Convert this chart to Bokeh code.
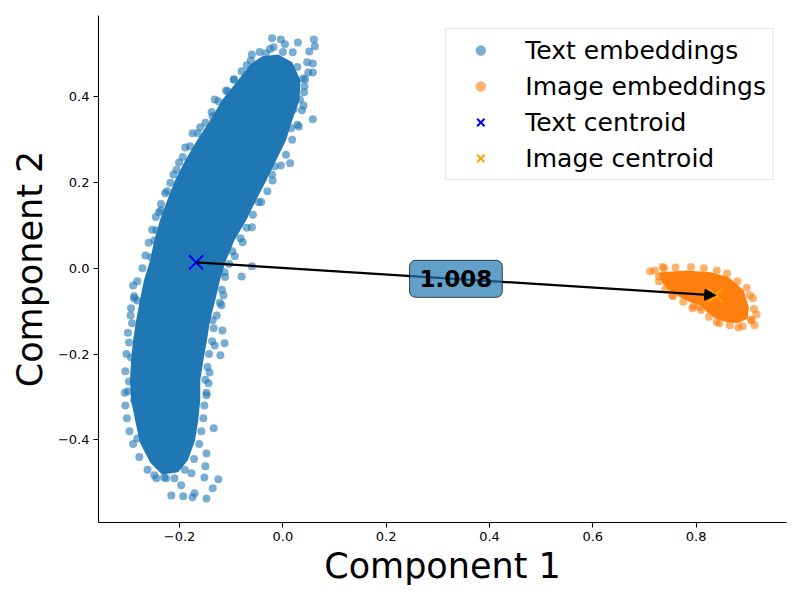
from bokeh.plotting import figure
from bokeh.models import (Range1d, Arrow, NormalHead, Label, Legend, LegendItem,
                          FixedTicker, CustomJSTickFormatter)
from bokeh.embed import file_html
from bokeh.resources import INLINE

# ---------------- data ----------------
# dense core of the text-embedding cloud (outline of the solid region)
text_core_x = [-0.040, -0.009, 0.018, 0.034, 0.032, 0.018, 0.006, -0.013, -0.032, -0.052,
               -0.071, -0.094, -0.110, -0.122, -0.131, -0.141, -0.147, -0.154, -0.160, -0.160,
               -0.164, -0.170, -0.184, -0.203, -0.234, -0.257, -0.277, -0.286, -0.294, -0.296,
               -0.294, -0.290, -0.284, -0.277, -0.269, -0.257, -0.249, -0.238, -0.224, -0.209,
               -0.189, -0.166, -0.141, -0.118, -0.087, -0.063]
text_core_y = [0.495, 0.499, 0.481, 0.439, 0.392, 0.345, 0.299, 0.252, 0.205, 0.159,
               0.112, 0.065, 0.019, -0.028, -0.075, -0.121, -0.168, -0.215, -0.261, -0.308,
               -0.355, -0.401, -0.448, -0.476, -0.481, -0.453, -0.406, -0.355, -0.308, -0.261,
               -0.215, -0.168, -0.121, -0.075, -0.028, 0.019, 0.065, 0.112, 0.159, 0.205,
               0.252, 0.299, 0.345, 0.392, 0.439, 0.476]

# individual text-embedding points: outliers ...
text_out_x = [-0.021, -0.004, 0.029, 0.060, 0.062, 0.051, 0.004, -0.018, -0.033, -0.060,
              -0.070, -0.095, -0.107, -0.132, -0.136, -0.175, -0.189, -0.201, -0.212, -0.224,
              -0.236, -0.240, -0.245, -0.249, -0.255, 0.058, 0.047, 0.058, 0.049, 0.043,
              0.039, 0.041, 0.033, 0.021, 0.037, 0.058, 0.031, 0.016, 0.019, -0.160,
              0.014, -0.016, -0.021, -0.047, -0.058, -0.060, -0.078, -0.093, -0.060, -0.080,
              -0.113, -0.115, -0.119, -0.136, -0.117, -0.113, -0.132, -0.290, -0.288, -0.282,
              -0.294, -0.292, -0.298, -0.294, -0.121, -0.142, -0.144, -0.148, -0.298, -0.300,
              -0.288, -0.134, -0.148, -0.150, -0.125, -0.152, -0.136, -0.148, -0.171, -0.193,
              -0.216, -0.175, -0.197, -0.249, -0.230, -0.226, -0.240, -0.177, -0.282, -0.263]
text_out_y = [0.537, 0.534, 0.527, 0.534, 0.518, 0.506, 0.523, 0.516, 0.502, 0.499,
              0.474, 0.441, 0.413, 0.394, 0.355, 0.315, 0.282, 0.247, 0.219, 0.180,
              0.135, 0.131, 0.089, 0.065, 0.026, 0.478, 0.481, 0.457, 0.457, 0.441,
              0.443, 0.411, 0.394, 0.371, 0.369, 0.348, 0.331, 0.327, 0.504, 0.329,
              0.245, 0.238, 0.219, 0.154, 0.168, 0.096, 0.061, 0.028, 0.005, -0.019,
              -0.009, -0.063, -0.086, -0.121, -0.145, -0.175, -0.180, -0.040, -0.065, -0.075,
              -0.093, -0.128, -0.173, -0.208, -0.203, -0.243, -0.268, -0.296, -0.264, -0.287,
              -0.308, -0.373, -0.432, -0.462, -0.492, -0.488, -0.513, -0.537, -0.525, -0.532,
              -0.530, -0.534, -0.506, -0.483, -0.488, -0.490, -0.460, -0.478, -0.397, -0.418]
# ... and points on the fuzzy rim of the core
text_rim_x = [0.000, 0.028, 0.042, 0.040, 0.028, 0.018, 0.006, -0.004, -0.020, -0.030,
              -0.042, -0.058, -0.070, -0.082, -0.098, -0.104, -0.112, -0.118, -0.122, -0.128,
              -0.134, -0.137, -0.143, -0.146, -0.150, -0.148, -0.152, -0.154, -0.158, -0.162,
              -0.172, -0.190, -0.210, -0.245, -0.262, -0.278, -0.290, -0.297, -0.302, -0.305,
              -0.306, -0.305, -0.303, -0.300, -0.295, -0.288, -0.282, -0.272, -0.266, -0.260,
              -0.253, -0.246, -0.236, -0.228, -0.218, -0.206, -0.194, -0.180, -0.165, -0.150,
              -0.138, -0.125, -0.110, -0.095, -0.080, -0.062, -0.045, -0.025]
text_rim_y = [0.505, 0.470, 0.425, 0.380, 0.335, 0.300, 0.265, 0.240, 0.205, 0.180,
              0.155, 0.125, 0.095, 0.070, 0.040, 0.010, -0.020, -0.050, -0.080, -0.110,
              -0.140, -0.170, -0.200, -0.230, -0.260, -0.290, -0.320, -0.350, -0.380, -0.410,
              -0.445, -0.470, -0.490, -0.490, -0.470, -0.440, -0.410, -0.380, -0.350, -0.320,
              -0.290, -0.240, -0.200, -0.150, -0.110, -0.070, -0.030, 0.000, 0.030, 0.060,
              0.090, 0.120, 0.150, 0.175, 0.200, 0.230, 0.260, 0.285, 0.315, 0.340,
              0.365, 0.390, 0.415, 0.440, 0.460, 0.485, 0.505, 0.512]

# dense core of the image-embedding cloud
image_core_x = [0.731, 0.780, 0.828, 0.863, 0.892, 0.902, 0.900, 0.881, 0.861, 0.838,
                0.822, 0.809, 0.789, 0.770, 0.747, 0.735, 0.727]
image_core_y = [-0.009, -0.005, -0.009, -0.021, -0.051, -0.091, -0.117, -0.128, -0.126, -0.117,
                -0.103, -0.086, -0.079, -0.068, -0.051, -0.033, -0.012]

# individual image-embedding points (outliers and rim)
image_x = [0.711, 0.728, 0.738, 0.744, 0.754, 0.793, 0.806, 0.845, 0.882, 0.913,
           0.917, 0.906, 0.904, 0.720, 0.735, 0.760, 0.790, 0.815, 0.840, 0.860,
           0.880, 0.898, 0.910, 0.912, 0.908, 0.890, 0.865, 0.840, 0.825, 0.810,
           0.795, 0.775, 0.755, 0.740, 0.728]
image_y = [-0.007, -0.019, 0.000, -0.037, -0.063, -0.093, -0.091, -0.128, -0.138, -0.133,
           -0.107, -0.121, -0.063, -0.005, 0.003, 0.002, 0.003, 0.000, -0.005, -0.012,
           -0.030, -0.045, -0.070, -0.095, -0.120, -0.135, -0.133, -0.125, -0.113, -0.097,
           -0.088, -0.078, -0.065, -0.050, -0.030]

text_centroid = [-0.168, 0.014]
image_centroid = [0.838, -0.063]
distance_text = "1.008"

x_ticks = [-0.2, 0.0, 0.2, 0.4, 0.6, 0.8]
y_ticks = [-0.4, -0.2, 0.0, 0.2, 0.4]

# ---------------- figure ----------------
FONT = "DejaVu Sans"
p = figure(width=792, height=592, output_backend="svg", toolbar_location=None,
           x_range=Range1d(-0.357, 0.975), y_range=Range1d(-0.593, 0.590),
           min_border_left=98, min_border_right=6, min_border_top=15, min_border_bottom=70)
p.outline_line_color = None
p.grid.visible = False
p.background_fill_color = "white"

fmt = CustomJSTickFormatter(code="return tick.toFixed(1).replace('-', '\u2212');")
p.xaxis.ticker = FixedTicker(ticks=x_ticks)
p.yaxis.ticker = FixedTicker(ticks=y_ticks)
for ax in (p.xaxis, p.yaxis):
    ax.formatter = fmt
    ax.major_label_text_font = FONT
    ax.major_label_text_font_size = "13px"
    ax.major_label_text_color = "black"
    ax.major_tick_out = 5
    ax.major_tick_in = 0
    ax.minor_tick_out = 0
    ax.minor_tick_in = 0
    ax.axis_line_color = "black"
    ax.axis_line_width = 1.1
    ax.major_tick_line_color = "black"
    ax.major_tick_line_width = 1.1
    ax.major_label_standoff = 4
    ax.axis_label_text_font = FONT
    ax.axis_label_text_font_size = "35px"
    ax.axis_label_text_font_style = "normal"
    ax.axis_label_text_color = "black"
p.xaxis.axis_label_standoff = 2
p.yaxis.axis_label_standoff = 5
p.xaxis.axis_label = "Component 1"
p.yaxis.axis_label = "Component 2"

# clouds
p.patch(text_core_x, text_core_y, fill_color="#1f77b4", line_color=None)
p.scatter(text_rim_x, text_rim_y, size=8, fill_color="#1f77b4", fill_alpha=0.6, line_color=None)
r_text = p.scatter(text_out_x, text_out_y, size=8, fill_color="#1f77b4", fill_alpha=0.6,
                   line_color=None)
p.patch(image_core_x, image_core_y, fill_color="#ff7f0e", line_color=None)
r_img = p.scatter(image_x, image_y, size=8, fill_color="#ff7f0e", fill_alpha=0.6, line_color=None)

# centroids
r_tc = p.scatter([text_centroid[0]], [text_centroid[1]], marker="x", size=20,
                 line_color="blue", line_width=2)
r_ic = p.scatter([image_centroid[0]], [image_centroid[1]], marker="x", size=20,
                 line_color="orange", line_width=2)

# arrow between centroids
arrow = Arrow(end=NormalHead(size=11, fill_color="black", line_color="black"),
              x_start=text_centroid[0], y_start=text_centroid[1],
              x_end=image_centroid[0], y_end=image_centroid[1],
              line_color="black", line_width=2.2)
p.add_layout(arrow)

mid_x = (text_centroid[0] + image_centroid[0]) / 2
mid_y = (text_centroid[1] + image_centroid[1]) / 2
lbl = Label(x=mid_x, y=mid_y, text=distance_text, text_align="center", text_baseline="middle",
            text_font=FONT, text_font_size="23px", text_font_style="bold", text_color="black",
            background_fill_color="#1f77b4", background_fill_alpha=0.7,
            border_line_color="black", border_line_alpha=0.7, border_line_width=1,
            padding=10, border_radius=6)
p.add_layout(lbl)

legend = Legend(items=[LegendItem(label="Text embeddings", renderers=[r_text]),
                       LegendItem(label="Image embeddings", renderers=[r_img]),
                       LegendItem(label="Text centroid", renderers=[r_tc]),
                       LegendItem(label="Image centroid", renderers=[r_ic])],
                location="top_right", margin=13, padding=6, spacing=6,
                glyph_width=56, glyph_height=26, label_height=30, label_standoff=17,
                label_text_font=FONT, label_text_font_size="25px", label_text_color="black",
                border_line_color="#cccccc", border_line_width=1,
                background_fill_color="white", background_fill_alpha=0.8)
p.add_layout(legend)

open("out.html", "w").write(file_html(p, INLINE))
